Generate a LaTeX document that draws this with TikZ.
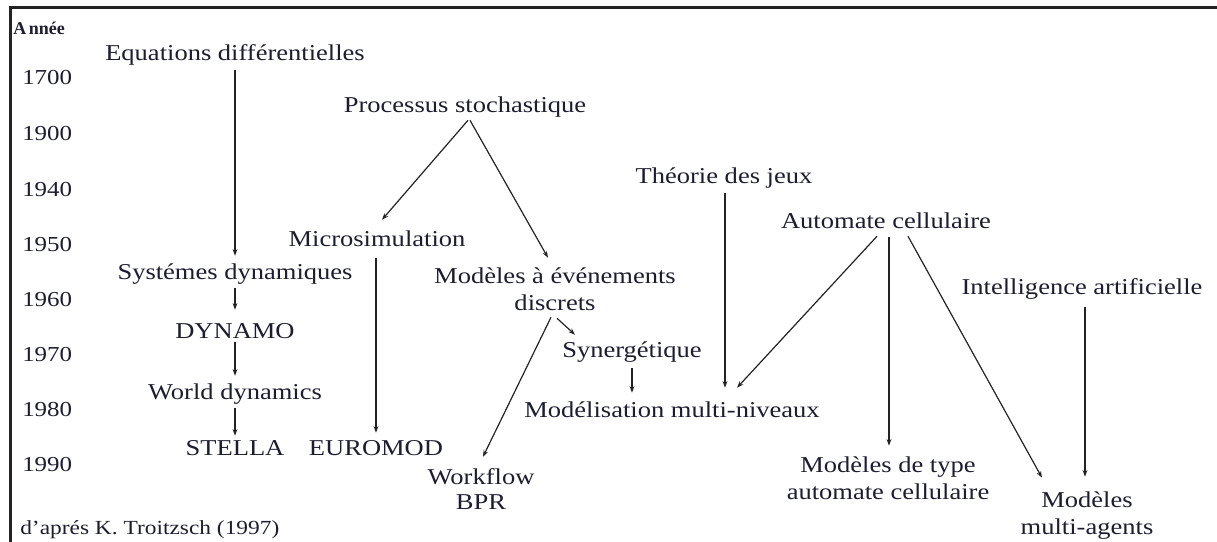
\documentclass[tikz,border=0pt]{standalone}
\usepackage{fontspec}
\setmainfont{Liberation Serif}[FakeStretch=1.17]
\newfontfamily\headfont{Liberation Serif}
\usetikzlibrary{arrows.meta,calc}

\definecolor{ink}{RGB}{28,30,48}
\definecolor{lineclr}{RGB}{35,35,35}

\begin{document}
\begin{tikzpicture}[x=0.75pt,y=-0.75pt,
  lbl/.style={font=\fontsize{17}{20.25}\selectfont, text=ink, inner sep=0pt,
              text height=13pt, text depth=2pt, align=center},
  yr/.style={font=\fontsize{16}{19}\selectfont, text=ink, anchor=west, inner sep=0pt},
  arr/.style={draw=lineclr, line width=0.9pt, -{Stealth[length=5pt,width=3.6pt]}},
  frame/.style={draw=lineclr, line width=1.9pt}]

\useasboundingbox (0,0) rectangle (1217,542);

% frame (top and left edges)
\draw[frame] (10.5,542) -- (10.5,7.5) -- (1217,7.5);

% year axis
\node[anchor=west, inner sep=0pt, text=ink, font=\headfont\fontsize{13.5}{16}\selectfont\bfseries] (annee) at (13,28) {A\kern2pt nnée};
\node[yr] (y1700) at (22,78)  {1700};
\node[yr] (y1900) at (22,134) {1900};
\node[yr] (y1940) at (22,190) {1940};
\node[yr] (y1950) at (22,245) {1950};
\node[yr] (y1960) at (22,300) {1960};
\node[yr] (y1970) at (22,355) {1970};
\node[yr] (y1980) at (22,410) {1980};
\node[yr] (y1990) at (22,465) {1990};

% approaches and models (two-line labels are placed by their last line)
\node[lbl] (eq)     at (235,53)   {Equations différentielles};
\node[lbl] (sys)    at (235,272)  {Systémes dynamiques};
\node[lbl] (dyn)    at (235,331)  {DYNAMO};
\node[lbl] (world)  at (235,392)  {World dynamics};
\node[lbl] (stella) at (235,448)  {STELLA};
\node[lbl] (euro)   at (376,448)  {EUROMOD};
\node[lbl] (micro)  at (377,239)  {Microsimulation};
\node[lbl] (proc)   at (465,105)  {Processus stochastique};
\node[lbl] (med)    at (555,303)  {Modèles à événements\\discrets};
\node[lbl] (syn)    at (632,350)  {Synergétique};
\node[lbl] (mml)    at (672,410)  {Modélisation multi-niveaux};
\node[lbl, font=\fontsize{17}{18.75}\selectfont] (wf) at (481,502) {Workflow\\BPR};
\node[lbl] (theo)   at (724,176)  {Théorie des jeux};
\node[lbl] (auto)   at (886,221)  {Automate cellulaire};
\node[lbl] (ia)     at (1082,287) {Intelligence artificielle};
\node[lbl] (mtac)   at (888,492)  {Modèles de type\\automate cellulaire};
\node[lbl] (mma)    at (1087,527) {Modèles\\multi-agents};

\node[anchor=west, inner sep=0pt, text=ink, font=\fontsize{15}{18}\selectfont] (src) at (20,530) {d'aprés K. Troitzsch (1997)};

% filiations
\draw[arr] ($(eq.south)+(0,7)$)     -- ($(sys.north)+(0,-6)$);
\draw[arr] ($(sys.south)+(0,6)$)    -- ($(dyn.north)+(0,-11)$);
\draw[arr] ($(dyn.south)+(0,1)$)    -- ($(world.north)+(0,-6)$);
\draw[arr] ($(world.south)+(0,6)$)  -- ($(stella.north)+(0,-2)$);
\draw[arr] ($(micro.south)+(-1,9)$) -- ($(euro.north)+(0,-5)$);
\draw[arr] ($(proc.south)+(3,5)$)   -- ($(micro.north)+(5,-9)$);
\draw[arr] ($(proc.south)+(5,5)$)   -- ($(med.north)+(-7,-35)$);
\draw[arr] ($(med.south)+(-4,4)$)   -- ($(wf.north)+(2,-35)$);
\draw[arr] ($(med.south)+(2,5)$)    -- ($(syn.north west)+(13,-5)$);
\draw[arr] ($(syn.south)+(0,8)$)    -- ($(mml.north)+(-40,-7)$);
\draw[arr] ($(theo.south)+(1,7)$)   -- ($(mml.north)+(53,-12)$);
\draw[arr] ($(auto.south)+(-9,5)$)  -- ($(mml.north)+(65,-12)$);
\draw[arr] ($(auto.south)+(3,6)$)   -- ($(mtac.north)+(1,-36)$);
\draw[arr] ($(auto.south)+(22,5)$)  -- ($(mma.north)+(-45,-39)$);
\draw[arr] ($(ia.south)+(3,10)$)    -- ($(mma.north)+(-2,-40)$);

\end{tikzpicture}
\end{document}
